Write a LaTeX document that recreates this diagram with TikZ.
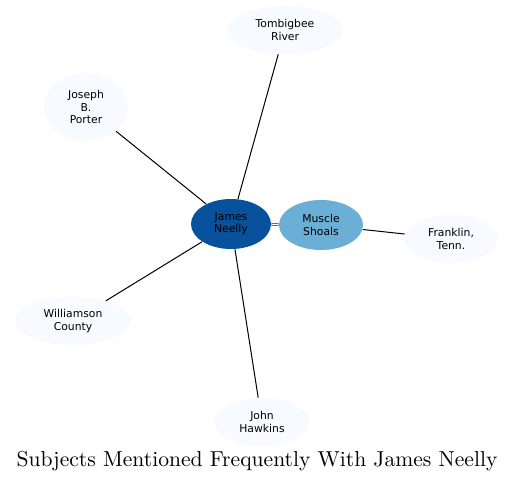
\documentclass[tikz,border=0pt]{standalone}
\usepackage{fontspec}
\usepackage{xcolor}
\usepackage{tikz}
\usetikzlibrary{shapes.geometric,positioning}
\newfontfamily\nodefont{DejaVu Sans}
\definecolor{palebox}{HTML}{F7FBFF}
\definecolor{midbox}{HTML}{6BAED6}
\definecolor{darkbox}{HTML}{08519C}

\begin{document}
\begin{tikzpicture}[
		x=0.5pt, y=-0.5pt,
		subject/.style={
			ellipse,
			fill=palebox,
			inner sep=0pt,
			align=center,
			font=\nodefont\fontsize{5.4}{6.1}\selectfont
			},
		focus/.style={
			subject,
			fill=darkbox
			},
		near/.style={
			subject,
			fill=midbox
			},
		link/.style={
			draw,
			line width=0.5pt
			}]
	    \useasboundingbox (0,0) rectangle (515,483);
	    % Place nodes
	    \node [focus, minimum width=40pt, minimum height=25pt] (neelly) at (231,224) {James\\Neelly};
	    \node [near, minimum width=42pt, minimum height=25pt] (shoals) at (321,225) {Muscle\\Shoals};
	    \node [subject, minimum width=58pt, minimum height=24pt] (tombigbee) at (285,30) {Tombigbee\\River};
	    \node [subject, minimum width=42pt, minimum height=34pt] (porter) at (86,107) {Joseph\\B.\\Porter};
	    \node [subject, minimum width=47pt, minimum height=24pt] (franklin) at (451,239) {Franklin,\\Tenn.};
	    \node [subject, minimum width=58pt, minimum height=24pt] (williamson) at (73,321) {Williamson\\County};
	    \node [subject, minimum width=48pt, minimum height=24pt] (hawkins) at (262,422) {John\\Hawkins};
	    \node (title) at (257,461) {\fontsize{10.8}{12}\selectfont Subjects Mentioned Frequently With James Neelly};

	    % Draw edges
	    \path [link] (tombigbee) -- (neelly);
	    \path [link] (porter) -- (neelly);
	    \path [link] (williamson) -- (neelly);
	    \path [link] (hawkins) -- (neelly);
	    \path [link] (shoals) -- (franklin);
	    \path [link, line width=0.3pt, double=white, double distance=0.6pt] (neelly) -- (shoals);
	\end{tikzpicture}
\end{document}
